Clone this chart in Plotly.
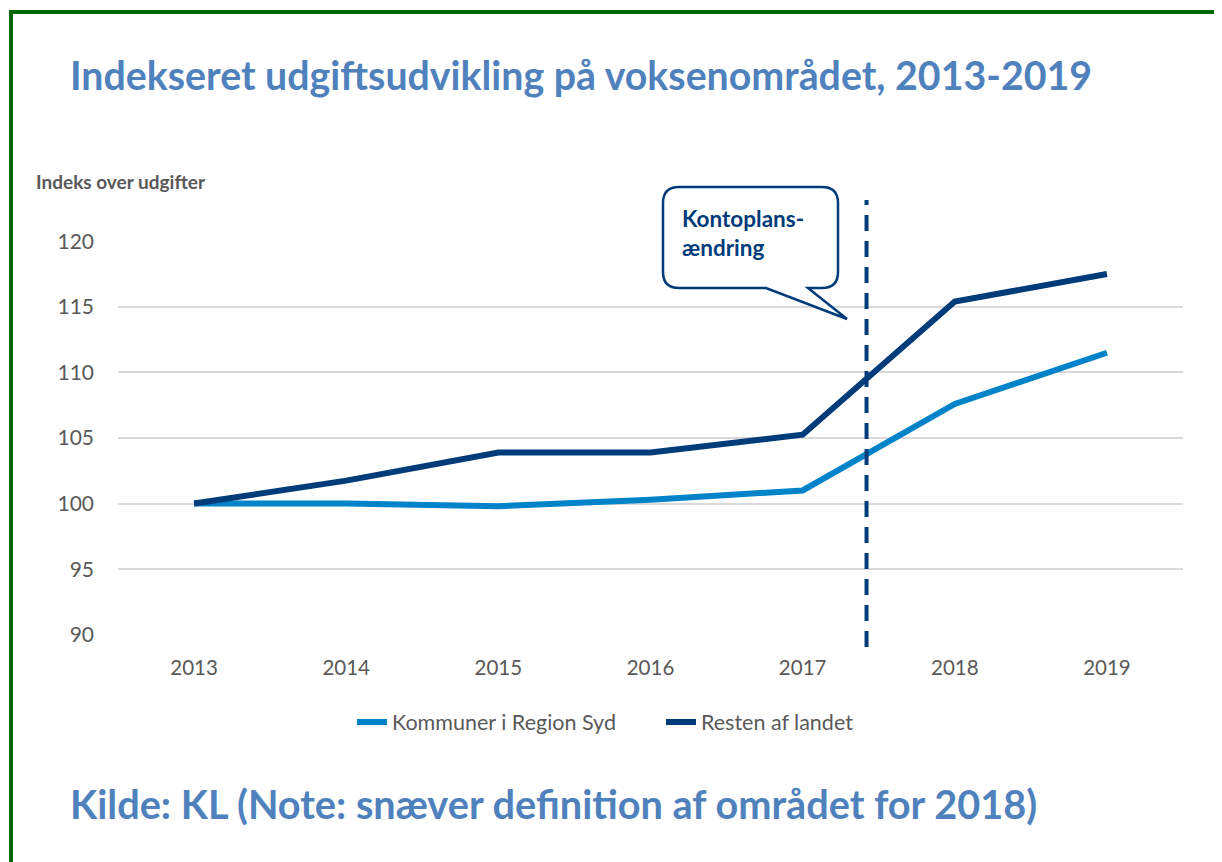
import plotly.graph_objects as go

years = [2013, 2014, 2015, 2016, 2017, 2018, 2019]
region_syd = [100.0, 100.0, 99.8, 100.3, 101.0, 107.6, 111.5]
resten = [100.0, 101.75, 103.9, 103.9, 105.25, 115.4, 117.5]
series_names = ["Kommuner i Region Syd", "Resten af landet"]
y_ticks = [90, 95, 100, 105, 110, 115, 120]
change_x = 2017.42

LIGHT = "#0083C8"
NAVY = "#003B7A"
TITLE_C = "#4F81BD"
GREY = "#595959"
FONT = "Lato"

OFF = 8  # page body margin
W, H = 1222 - OFF, 862 - OFF
L, R, T, B = 118 - OFF, 1183 - OFF, 241 - OFF, 635 - OFF


def px(x):
    return (x - OFF - L) / (R - L)


def py(y):
    return (B - (y - OFF)) / (B - T)


fig = go.Figure()
fig.add_trace(go.Scatter(x=years, y=region_syd, mode="lines", name=series_names[0],
                         line=dict(color=LIGHT, width=6)))
fig.add_trace(go.Scatter(x=years, y=resten, mode="lines", name=series_names[1],
                         line=dict(color=NAVY, width=6)))

shapes = []
# dashed vertical line
shapes.append(dict(type="line", xref="x", yref="paper", x0=change_x, x1=change_x,
                   y0=py(647), y1=py(200), line=dict(color=NAVY, width=4, dash="16px,10px")))

# callout path (rounded rectangle with tail)
x0, x1, y0, y1, r = 663, 838, 187, 288, 16


def P(x, y):
    return f"{px(x):.5f},{py(y):.5f}"


path = (f"M {P(x0 + r, y0)} L {P(x1 - r, y0)} Q {P(x1, y0)} {P(x1, y0 + r)} "
        f"L {P(x1, y1 - r)} Q {P(x1, y1)} {P(x1 - r, y1)} "
        f"L {P(808, y1)} L {P(847, 319)} L {P(766, y1)} "
        f"L {P(x0 + r, y1)} Q {P(x0, y1)} {P(x0, y1 - r)} "
        f"L {P(x0, y0 + r)} Q {P(x0, y0)} {P(x0 + r, y0)} Z")
shapes.append(dict(type="path", xref="paper", yref="paper", path=path,
                   line=dict(color=NAVY, width=2.5), fillcolor="white"))

# green frame
shapes.append(dict(type="rect", xref="paper", yref="paper",
                   x0=px(11), x1=px(1240), y0=py(880), y1=py(12),
                   line=dict(color="#006600", width=4)))

annotations = [
    dict(text="<b>Indekseret udgiftsudvikling på voksenområdet, 2013-2019</b>",
         xref="paper", yref="paper", x=px(68), y=py(75), xanchor="left", yanchor="middle",
         showarrow=False, font=dict(family=FONT, size=39.3, color=TITLE_C)),
    dict(text="<b>Kilde: KL (Note: snæver definition af området for 2018)</b>",
         xref="paper", yref="paper", x=px(68), y=py(803), xanchor="left", yanchor="middle",
         showarrow=False, font=dict(family=FONT, size=39.7, color=TITLE_C)),
    dict(text="<b>Indeks over udgifter</b>",
         xref="paper", yref="paper", x=px(34), y=py(181), xanchor="left", yanchor="middle",
         showarrow=False, font=dict(family=FONT, size=19, color=GREY)),
    dict(text="<b>Kontoplans-<br>ændring</b>",
         xref="paper", yref="paper", x=px(680), y=py(233), xanchor="left", yanchor="middle",
         align="left", showarrow=False, font=dict(family=FONT, size=22.5, color=NAVY)),
]

fig.update_layout(
    width=W, height=H,
    margin=dict(l=L, r=W - R, t=T, b=H - B),
    paper_bgcolor="white", plot_bgcolor="white",
    font=dict(family=FONT, color=GREY, size=21),
    showlegend=True,
    legend=dict(orientation="h", x=px(352), xanchor="left", y=py(722), yanchor="middle",
                entrywidth=264, entrywidthmode="pixels",
                font=dict(family=FONT, size=21.5, color=GREY), bgcolor="rgba(0,0,0,0)"),
    shapes=shapes,
    annotations=annotations,
)
fig.update_xaxes(range=[2012.5, 2019.5], tickmode="array", tickvals=years,
                 ticktext=[str(y) for y in years], showgrid=False, zeroline=False,
                 showline=False, ticks="", ticklabelstandoff=18,
                 tickfont=dict(family=FONT, size=20.5, color=GREY))
fig.update_yaxes(range=[89.98, 120.02], tickmode="array", tickvals=y_ticks,
                 showgrid=True, gridcolor="#D9D9D9", gridwidth=1.5, zeroline=False,
                 showline=False, ticks="", ticklabelstandoff=23,
                 tickfont=dict(family=FONT, size=21, color=GREY))

fig.write_html("out.html")
